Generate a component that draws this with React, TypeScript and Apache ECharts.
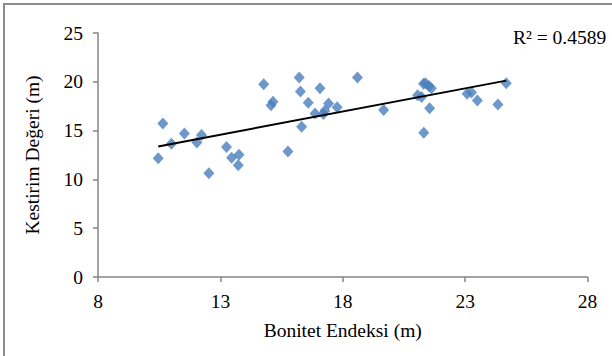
import React, { useEffect, useRef } from "react";
import * as echarts from "echarts";

const bonitet: number[] = [
  10.46, 10.65, 11.0, 11.53, 12.04, 12.23, 12.53, 13.25, 13.46, 13.76,
  13.73, 14.77, 15.07, 15.15, 15.76, 16.22, 16.27, 16.32, 16.59, 16.87,
  17.07, 17.21, 17.27, 17.42, 17.77, 18.6, 19.67, 21.06, 21.22, 21.3,
  21.38, 21.31, 21.52, 21.62, 21.55, 23.08, 23.26, 23.5, 24.34, 24.68,
];
const kestirim: number[] = [
  12.16, 15.74, 13.66, 14.71, 13.79, 14.54, 10.63, 13.32, 12.23, 12.53,
  11.44, 19.75, 17.61, 17.95, 12.87, 20.44, 19.0, 15.4, 17.85, 16.76,
  19.35, 16.69, 17.03, 17.78, 17.4, 20.44, 17.1, 18.63, 18.43, 19.79,
  19.86, 14.78, 19.58, 19.35, 17.3, 18.77, 18.9, 18.09, 17.68, 19.86,
];
// Linear trendline endpoints
const trendX: number[] = [10.46, 24.68];
const trendY: number[] = [13.38, 20.12];
const r2Label = "R² = 0.4589";
const xTitle = "Bonitet Endeksi (m)";
const yTitle = "Kestirim Değeri (m)";

export default function App() {
  const ref = useRef<HTMLDivElement>(null);
  useEffect(() => {
    if (!ref.current) return;
    const chart = echarts.init(ref.current, null, { renderer: "svg" });
    const font = "'Liberation Serif', serif";
    const fs = 19.5;
    const pts = bonitet.map((x, i) => [x, kestirim[i]]);
    const trend = trendX.map((x, i) => [x, trendY[i]]);
    const axisColor = "#868686";
    chart.setOption({
      animation: false,
      backgroundColor: "#ffffff",
      grid: { left: 98, right: 24.5, top: 33, bottom: 79 },
      xAxis: {
        type: "value",
        min: 8,
        max: 28,
        interval: 5,
        splitLine: { show: false },
        axisLine: { show: true, lineStyle: { color: axisColor, width: 1.5 } },
        axisTick: { show: true, length: 5, lineStyle: { color: axisColor, width: 1.5 } },
        axisLabel: {
          color: "#000",
          fontFamily: font,
          fontSize: fs,
          margin: 14,
          showMinLabel: true,
          showMaxLabel: true,
        },
        name: xTitle,
        nameLocation: "middle",
        nameGap: 43,
        nameTextStyle: { color: "#000", fontFamily: font, fontSize: fs },
      },
      yAxis: {
        type: "value",
        min: 0,
        max: 25,
        interval: 5,
        splitLine: { show: false },
        axisLine: { show: true, lineStyle: { color: axisColor, width: 1.5 } },
        axisTick: { show: true, length: 5, lineStyle: { color: axisColor, width: 1.5 } },
        axisLabel: {
          color: "#000",
          fontFamily: font,
          fontSize: fs,
          margin: 15,
        },
        name: yTitle,
        nameLocation: "middle",
        nameGap: 56,
        nameRotate: 90,
        nameTextStyle: { color: "#000", fontFamily: font, fontSize: fs },
      },
      series: [
        {
          type: "scatter",
          data: pts,
          symbol: "diamond",
          symbolSize: [11, 12],
          itemStyle: { color: "#4A7EBB" },
          z: 2,
        },
        {
          type: "line",
          data: trend,
          showSymbol: false,
          symbol: "none",
          lineStyle: { color: "#000", width: 2 },
          z: 3,
        },
      ],
      graphic: [
        {
          type: "polyline",
          shape: { points: [[4, 356], [4, 4], [612, 4]] },
          style: { stroke: "#8c8c8c", lineWidth: 2, fill: "none" },
          silent: true,
        },
        {
          type: "text",
          left: 513,
          top: 27,
          style: { text: r2Label, fill: "#000", font: `${fs}px ${font}` },
          silent: true,
        },
      ],
    });
    return () => chart.dispose();
  }, []);
  return (
    <div
      ref={ref}
      style={{ position: "absolute", left: 0, top: 0, width: 612, height: 356 }}
    />
  );
}
